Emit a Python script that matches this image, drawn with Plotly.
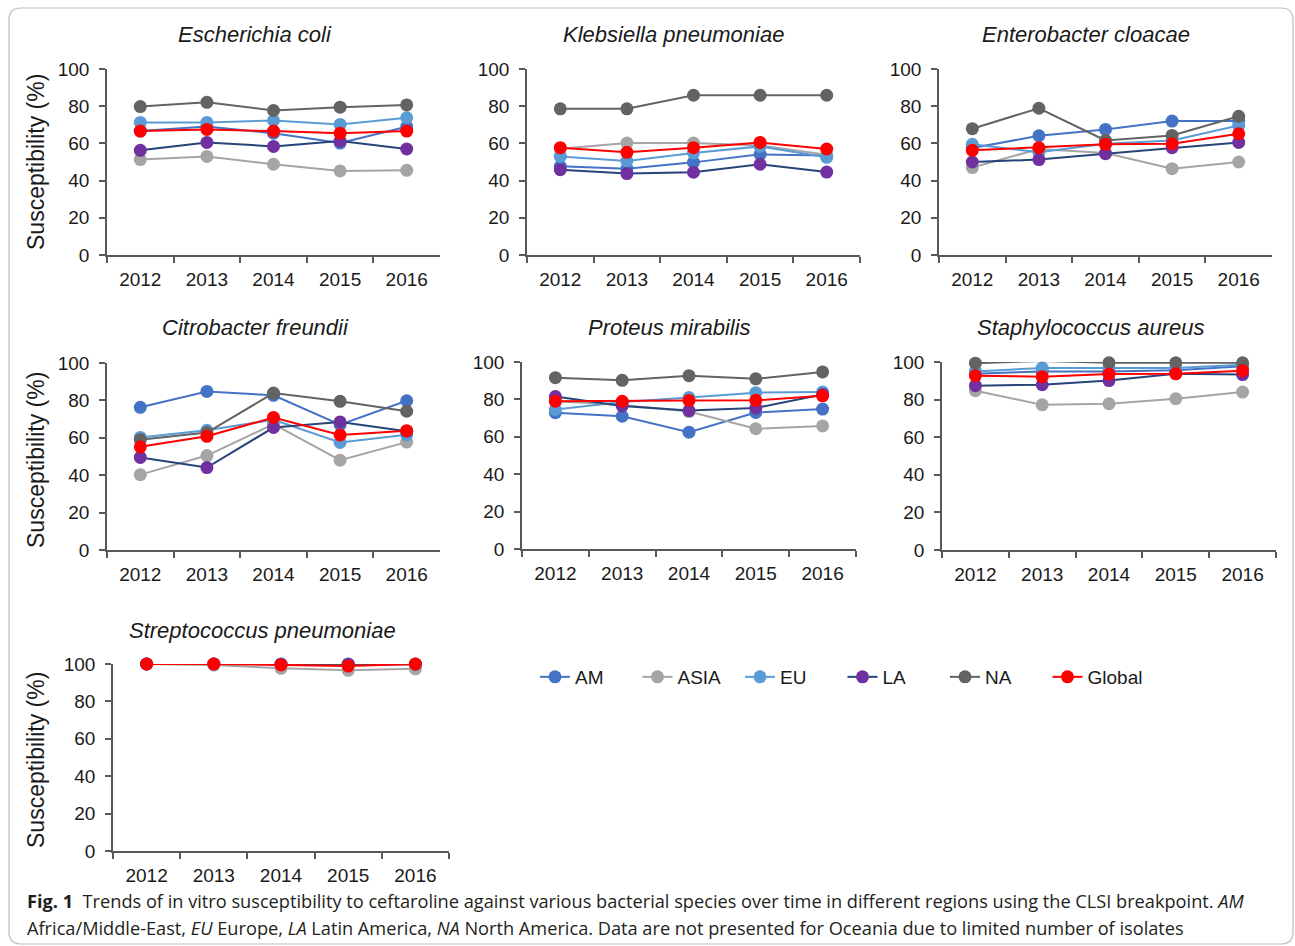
import plotly.graph_objects as go

W, H = 1295, 946

years = ["2012", "2013", "2014", "2015", "2016"]
regions = ["AM", "ASIA", "EU", "LA", "NA", "Global"]
species = [
    "Escherichia coli",
    "Klebsiella pneumoniae",
    "Enterobacter cloacae",
    "Citrobacter freundii",
    "Proteus mirabilis",
    "Staphylococcus aureus",
    "Streptococcus pneumoniae",
]

# Susceptibility (%) by region, one list per species
ecoli = {
    "AM": [66.6, 69.1, 65.5, 60.2, 69.0],
    "ASIA": [51.3, 53.0, 48.8, 45.2, 45.5],
    "EU": [71.3, 71.3, 72.3, 70.2, 73.8],
    "LA": [56.3, 60.5, 58.4, 61.3, 57.0],
    "NA": [79.8, 82.1, 77.7, 79.5, 80.7],
    "Global": [66.6, 67.5, 66.6, 65.5, 66.6],
}
kpneu = {
    "AM": [47.7, 46.4, 49.8, 54.1, 53.5],
    "ASIA": [57.1, 60.2, 60.2, 58.9, 53.9],
    "EU": [53.0, 50.5, 54.8, 58.4, 52.5],
    "LA": [45.9, 43.8, 44.5, 48.8, 44.6],
    "NA": [78.6, 78.6, 85.9, 85.9, 85.9],
    "Global": [57.7, 55.2, 57.7, 60.5, 57.0],
}
ecloa = {
    "AM": [57.5, 64.1, 67.5, 72.0, 72.0],
    "ASIA": [47.0, 57.0, 54.8, 46.4, 50.0],
    "EU": [59.5, 55.2, 59.8, 61.6, 69.6],
    "LA": [50.0, 51.3, 54.5, 57.7, 60.5],
    "NA": [67.9, 78.9, 61.6, 64.3, 74.6],
    "Global": [56.3, 57.7, 59.5, 59.8, 65.2],
}
cfreu = {
    "AM": [76.3, 84.8, 82.7, 67.0, 79.8],
    "ASIA": [40.3, 50.5, 67.3, 48.0, 57.7],
    "EU": [60.2, 64.0, 69.6, 57.5, 61.6],
    "LA": [49.5, 44.1, 65.5, 68.5, 63.5],
    "NA": [59.0, 62.8, 83.9, 79.5, 74.2],
    "Global": [55.2, 60.8, 70.9, 61.5, 63.8],
}
pmira = {
    "AM": [72.9, 71.0, 62.5, 73.0, 74.8],
    "ASIA": [79.0, 77.0, 73.5, 64.3, 65.8],
    "EU": [74.6, 78.6, 81.0, 83.6, 84.0],
    "LA": [81.5, 76.5, 74.0, 75.4, 82.6],
    "NA": [91.6, 90.2, 92.7, 91.0, 94.7],
    "Global": [79.0, 79.0, 79.4, 79.5, 81.9],
}
saure = {
    "AM": [93.8, 95.0, 95.0, 95.6, 97.7],
    "ASIA": [84.7, 77.2, 77.8, 80.5, 84.0],
    "EU": [95.0, 96.8, 96.8, 96.8, 98.6],
    "LA": [87.4, 87.9, 90.1, 93.8, 93.3],
    "NA": [99.4, 100.5, 99.6, 99.6, 99.6],
    "Global": [92.7, 92.2, 93.6, 93.8, 95.4],
}
spneu = {
    "AM": [100.0, 100.0, 99.8, 99.8, 99.8],
    "ASIA": [100.0, 99.4, 97.7, 96.6, 97.4],
    "EU": [100.0, 100.0, 100.0, 100.0, 100.0],
    "LA": [100.0, 100.0, 99.9, 99.9, 99.9],
    "NA": [100.3, 100.2, 100.3, 100.3, 100.3],
    "Global": [100.0, 100.0, 99.5, 98.9, 100.0],
}
tables = [ecoli, kpneu, ecloa, cfreu, pmira, saure, spneu]

y_ticks = [0, 20, 40, 60, 80, 100]

line_colors = {
    "AM": "#4472C4", "ASIA": "#A5A5A5", "EU": "#5B9BD5",
    "LA": "#264478", "NA": "#636363", "Global": "#FF0000",
}
marker_colors = {
    "AM": "#4472C4", "ASIA": "#A5A5A5", "EU": "#5B9BD5",
    "LA": "#7030A0", "NA": "#636363", "Global": "#FF0000",
}

# Panel frames in pixels: x_left, x_right, y_top (100 %), y_bottom (0 %)
frames = [
    (107, 440, 69, 255),
    (527, 860, 69, 255),
    (939, 1272, 69, 255),
    (107, 440, 363, 550),
    (522, 856, 362, 549),
    (942, 1276, 362, 550),
    (113, 449, 664, 851),
]
# Title centres in pixels
title_pos = [(255, 35), (673, 35), (1086, 35), (255, 328), (669, 328), (1090, 328), (262, 630)]
ytitle_pos = [(36, 162), (36, 460), (36, 760)]


def px(x):
    return x / W


def py(y):
    return 1 - y / H


AX_COLOR = "#595959"
TICK_FONT = dict(family="Liberation Sans, Arial", size=19, color="#1a1a1a")
LABEL_FONT = dict(family="Liberation Sans, Arial", size=22, color="#1a1a1a")

fig = go.Figure()
layout = {}
for i, (tbl, fr) in enumerate(zip(tables, frames)):
    n = i + 1
    xa = "x" if n == 1 else f"x{n}"
    ya = "y" if n == 1 else f"y{n}"
    for r in regions:
        fig.add_trace(go.Scatter(
            x=years, y=tbl[r], name=r, mode="lines+markers",
            xaxis=xa, yaxis=ya, legendgroup=r, showlegend=(n == 1),
            line=dict(color=line_colors[r], width=2),
            marker=dict(color=marker_colors[r], size=13),
            cliponaxis=False,
        ))
    x0, x1, yt, yb = fr
    layout["xaxis" if n == 1 else f"xaxis{n}"] = dict(
        domain=[px(x0), px(x1)], anchor=ya, type="category",
        categoryorder="array", categoryarray=years, range=[-0.5, 4.5],
        tickson="boundaries", ticks="outside", ticklen=6, tickwidth=1.5,
        tickcolor=AX_COLOR, showline=True, linecolor=AX_COLOR, linewidth=1.5,
        showgrid=False, zeroline=False, tickfont=TICK_FONT, ticklabelstandoff=6,
        automargin=False, fixedrange=True,
    )
    layout["yaxis" if n == 1 else f"yaxis{n}"] = dict(
        domain=[py(yb), py(yt)], anchor=xa, range=[0, 100],
        tickvals=y_ticks, ticks="outside", ticklen=6, tickwidth=1.5,
        tickcolor=AX_COLOR, showline=True, linecolor=AX_COLOR, linewidth=1.5,
        showgrid=False, zeroline=False, tickfont=TICK_FONT, ticklabelstandoff=6,
        automargin=False, fixedrange=True,
    )

annotations = []
for name, (tx, ty) in zip(species, title_pos):
    annotations.append(dict(
        text=f"<i>{name}</i>", x=px(tx), y=py(ty), xref="paper", yref="paper",
        xanchor="center", yanchor="middle", showarrow=False, font=LABEL_FONT,
    ))
for tx, ty in ytitle_pos:
    annotations.append(dict(
        text="Susceptibility (%)", x=px(tx), y=py(ty), xref="paper", yref="paper",
        xanchor="center", yanchor="middle", showarrow=False, textangle=-90,
        font=dict(family="Liberation Sans, Arial", size=23, color="#1a1a1a"),
    ))

caption_lines = [
    "<b>Fig. 1</b>  Trends of in vitro susceptibility to ceftaroline against various "
    "bacterial species over time in different regions using the CLSI breakpoint. <i>AM</i>",
    "Africa/Middle-East, <i>EU</i> Europe, <i>LA</i> Latin America, <i>NA</i> North America. "
    "Data are not presented for Oceania due to limited number of isolates",
]
for line, cy in zip(caption_lines, [901, 928]):
    annotations.append(dict(
        text=line, x=px(25), y=py(cy), xref="paper", yref="paper",
        xanchor="left", yanchor="middle", align="left", showarrow=False,
        font=dict(family="Open Sans, sans-serif", size=18.2, color="#231F20"),
    ))

# Rounded outer frame
bx0, by0, bx1, by1, rad = 9, 8, 1293, 944, 12
path = (
    f"M {px(bx0 + rad)},{py(by0)} L {px(bx1 - rad)},{py(by0)} "
    f"Q {px(bx1)},{py(by0)} {px(bx1)},{py(by0 + rad)} "
    f"L {px(bx1)},{py(by1 - rad)} Q {px(bx1)},{py(by1)} {px(bx1 - rad)},{py(by1)} "
    f"L {px(bx0 + rad)},{py(by1)} Q {px(bx0)},{py(by1)} {px(bx0)},{py(by1 - rad)} "
    f"L {px(bx0)},{py(by0 + rad)} Q {px(bx0)},{py(by0)} {px(bx0 + rad)},{py(by0)} Z"
)

fig.update_layout(
    width=W, height=H, margin=dict(l=0, r=0, t=0, b=0, autoexpand=False),
    paper_bgcolor="white", plot_bgcolor="white",
    annotations=annotations,
    shapes=[dict(type="path", path=path, xref="paper", yref="paper",
                 line=dict(color="#BDBDBD", width=1.2))],
    legend=dict(
        orientation="h", x=px(535), y=py(677), xanchor="left", yanchor="middle",
        font=dict(family="Liberation Sans, Arial", size=19, color="#1a1a1a"),
        entrywidth=57.5, entrywidthmode="pixels", bgcolor="rgba(0,0,0,0)",
        itemclick=False,
    ),
    **layout,
)

fig.write_html("out.html")
